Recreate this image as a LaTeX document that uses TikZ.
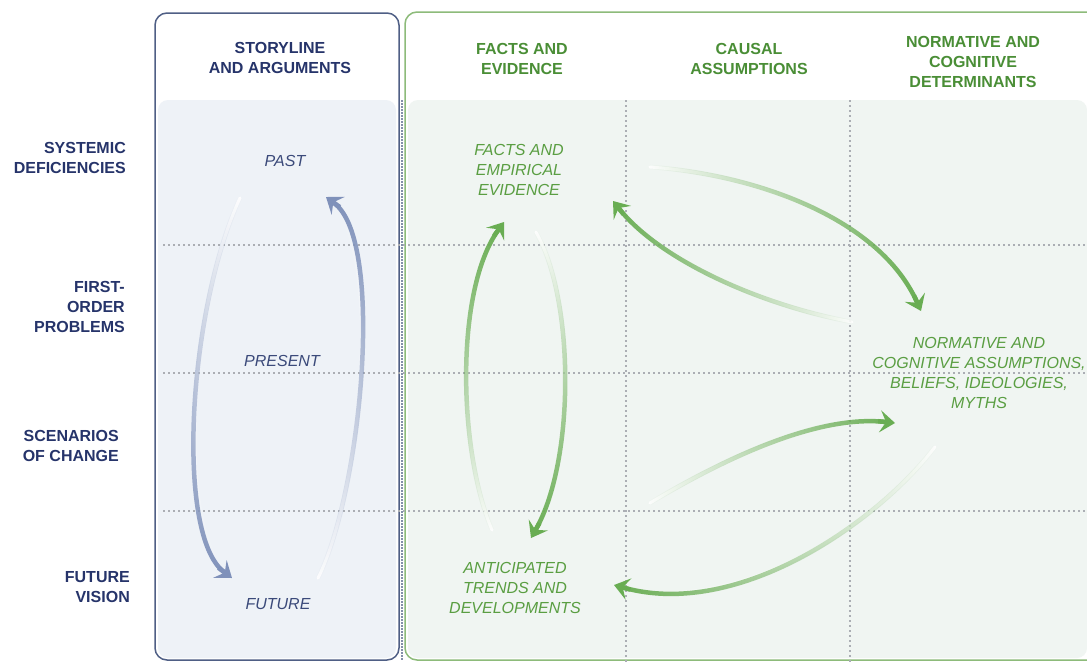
\documentclass[tikz,border=0pt]{standalone}
\usepackage{fontspec}
\setmainfont{Liberation Sans}
\usetikzlibrary{arrows.meta,fadings,calc}
\definecolor{navy}{HTML}{26346A}
\definecolor{navyit}{HTML}{3B4A7A}
\definecolor{gtxt}{HTML}{4A8E36}
\definecolor{gitx}{HTML}{5A9E42}
\definecolor{boxblue}{HTML}{4F5F85}
\definecolor{boxgreen}{HTML}{8DBB7A}
\definecolor{fillblue}{HTML}{EEF2F7}
\definecolor{fillgreen}{HTML}{F0F5F2}
\definecolor{dotgrey}{HTML}{ABAEB4}
\definecolor{arrblue}{HTML}{7F91BA}
\definecolor{arrgreen}{HTML}{69AD53}
\tikzfading[name=fS, top color=transparent!100, middle color=transparent!75, bottom color=transparent!0]
\tikzfading[name=fN, top color=transparent!0, middle color=transparent!75, bottom color=transparent!100]
\tikzfading[name=fE, left color=transparent!100, middle color=transparent!75, right color=transparent!0]
\tikzfading[name=fW, left color=transparent!0, middle color=transparent!75, right color=transparent!100]
\tikzfading[name=wS, top color=transparent!10, middle color=transparent!70, bottom color=transparent!100]
\tikzfading[name=wN, top color=transparent!100, middle color=transparent!70, bottom color=transparent!10]
\tikzfading[name=wE, left color=transparent!10, middle color=transparent!70, right color=transparent!100]
\tikzfading[name=wW, left color=transparent!100, middle color=transparent!70, right color=transparent!10]
\begin{document}
\begin{tikzpicture}[x=1pt,y=-1pt,
  rowlab/.style={font=\bfseries\fontsize{16}{20}\selectfont, text=navy, align=right, inner sep=0pt, anchor=east},
  hdrb/.style={font=\bfseries\fontsize{16}{20}\selectfont, text=navy, align=center, inner sep=0pt},
  hdrg/.style={font=\bfseries\fontsize{16}{20}\selectfont, text=gtxt, align=center, inner sep=0pt},
  itb/.style={font=\itshape\fontsize{16}{20}\selectfont, text=navyit, align=center, inner sep=0pt},
  itg/.style={font=\itshape\fontsize{16}{20}\selectfont, text=gitx, align=center, inner sep=0pt},
  gridline/.style={dotgrey, line width=1.2pt, dash pattern=on 2.2pt off 2.8pt},
  tipstyle/.style={-{Stealth[length=15pt,width=22pt,inset=6pt]}},
  linb/.style={arrblue, line width=4.5pt, shorten >=10pt},
  ling/.style={arrgreen, line width=4.5pt, shorten >=10pt},
  tipb/.style={arrblue, line width=4.5pt, tipstyle},
  tipg/.style={arrgreen, line width=4.5pt, tipstyle},
  glow/.style={white, line width=3pt, line cap=round}
]
\useasboundingbox (0,0) rectangle (1087,662);
\fill[white] (0,0) rectangle (1087,662);
% shaded inner areas
\fill[fillblue, rounded corners=10pt] (158,100) rectangle (396,658);
\fill[fillgreen, rounded corners=10pt] (408,100) rectangle (1087,658);
% outlines
\draw[boxblue, line width=1.5pt, rounded corners=12pt] (155,13) rectangle (399,660);
\draw[boxgreen, line width=1.5pt, rounded corners=12pt] (1087,12) -- (405,12) -- (405,660) -- (1087,660);
\draw[boxblue!70, line width=1.2pt, dash pattern=on 1.5pt off 1.5pt] (402,100) -- (402,660);
% grid
\foreach \yy in {245,373,511} {\draw[gridline] (163,\yy) -- (1087,\yy);}
\foreach \xx in {626,850} {\draw[gridline] (\xx,100) -- (\xx,662);}
% row labels
\node[rowlab] (r1) at (126,158) {SYSTEMIC\\DEFICIENCIES};
\node[rowlab] (r2) at (125,307) {FIRST-\\ORDER\\PROBLEMS};
\node[rowlab] (r3) at (119,446) {SCENARIOS\\OF CHANGE};
\node[rowlab] (r4) at (130,587) {FUTURE\\VISION};
% headers
\node[hdrb] (h1) at (280,58) {STORYLINE\\AND ARGUMENTS};
\node[hdrg] (h2) at (522,59) {FACTS AND\\EVIDENCE};
\node[hdrg] (h3) at (749,59) {CAUSAL\\ASSUMPTIONS};
\node[hdrg] (h4) at (973,62) {NORMATIVE AND\\COGNITIVE\\DETERMINANTS};
% italic items
\node[itb] (past) at (285,161) {PAST};
\node[itb] (present) at (282,361) {PRESENT};
\node[itb] (future) at (278,604) {FUTURE};
\node[itg] (facts) at (519,170) {FACTS AND\\EMPIRICAL\\EVIDENCE};
\node[itg] (norm) at (979,373) {NORMATIVE AND\\COGNITIVE ASSUMPTIONS,\\BELIEFS, IDEOLOGIES,\\MYTHS};
\node[itg] (trends) at (515,588) {ANTICIPATED\\TRENDS AND\\DEVELOPMENTS};
% arrow end points and second control points
\coordinate (a1s) at (240,198); \coordinate (a1e) at (232,578); \coordinate (c1) at (175,535);
\coordinate (a2s) at (318,578); \coordinate (a2e) at (326,197); \coordinate (c2) at (385,240);
\coordinate (a3s) at (492,530); \coordinate (a3e) at (504,222); \coordinate (c3) at (455,290);
\coordinate (a4s) at (536,232); \coordinate (a4e) at (531,538); \coordinate (c4) at (575,460);
\coordinate (a5s) at (650,167); \coordinate (a5e) at (921,311); \coordinate (c5) at (880,220);
\coordinate (a6s) at (852,322); \coordinate (a6e) at (613,201); \coordinate (c6) at (660,260);
\coordinate (a7s) at (650,503); \coordinate (a7e) at (895,423); \coordinate (c7) at (820,415);
\coordinate (a8s) at (935,447); \coordinate (a8e) at (614,585); \coordinate (c8) at (740,620);
% white streaks at the faded starts
\draw[glow, path fading=wS] (a1s) .. controls (188,310) and (c1) .. (a1e);
\draw[glow, path fading=wN] (a2s) .. controls (362,490) and (c2) .. (a2e);
\draw[glow, path fading=wN] (a3s) .. controls (458,450) and (c3) .. (a3e);
\draw[glow, path fading=wS] (a4s) .. controls (575,300) and (c4) .. (a4e);
\draw[glow, path fading=wE] (a5s) .. controls (760,175) and (c5) .. (a5e);
\draw[glow, path fading=wW] (a6s) .. controls (760,305) and (c6) .. (a6e);
\draw[glow, path fading=wE] (a7s) .. controls (730,455) and (c7) .. (a7e);
\draw[glow, path fading=wW] (a8s) .. controls (880,520) and (c8) .. (a8e);
% faded arrow bodies
\draw[linb, path fading=fS] (a1s) .. controls (188,310) and (c1) .. (a1e);
\draw[linb, path fading=fN] (a2s) .. controls (362,490) and (c2) .. (a2e);
\draw[ling, path fading=fN] (a3s) .. controls (458,450) and (c3) .. (a3e);
\draw[ling, path fading=fS] (a4s) .. controls (575,300) and (c4) .. (a4e);
\draw[ling, path fading=fE] (a5s) .. controls (760,175) and (c5) .. (a5e);
\draw[ling, path fading=fW] (a6s) .. controls (760,305) and (c6) .. (a6e);
\draw[ling, path fading=fE] (a7s) .. controls (730,455) and (c7) .. (a7e);
\draw[ling, path fading=fW] (a8s) .. controls (880,520) and (c8) .. (a8e);
% solid arrow heads
\draw[tipb] ($(a1e)!17pt!(c1)$) -- (a1e);
\draw[tipb] ($(a2e)!17pt!(c2)$) -- (a2e);
\draw[tipg] ($(a3e)!17pt!(c3)$) -- (a3e);
\draw[tipg] ($(a4e)!17pt!(c4)$) -- (a4e);
\draw[tipg] ($(a5e)!17pt!(c5)$) -- (a5e);
\draw[tipg] ($(a6e)!17pt!(c6)$) -- (a6e);
\draw[tipg] ($(a7e)!17pt!(c7)$) -- (a7e);
\draw[tipg] ($(a8e)!17pt!(c8)$) -- (a8e);
\end{tikzpicture}
\end{document}
